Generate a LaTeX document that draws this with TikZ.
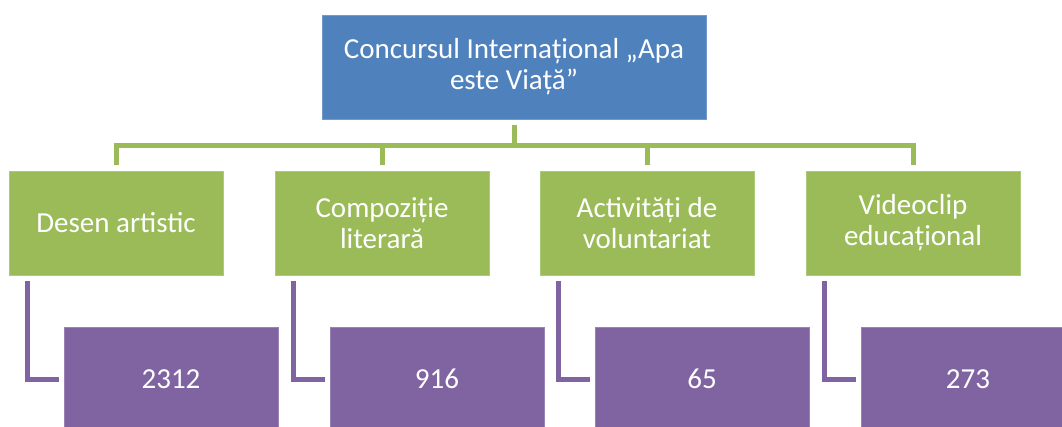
\documentclass[tikz,border=0pt]{standalone}
\usepackage{fontspec}
\setmainfont{Carlito}
\definecolor{topblue}{HTML}{4F81BD}
\definecolor{lvgreen}{HTML}{9BBB59}
\definecolor{lvpurple}{HTML}{8064A2}
\begin{document}
\begin{tikzpicture}[x=1pt,y=1pt,
  box/.style={rectangle, minimum width=214pt, minimum height=104pt, inner sep=0pt,
    text=white, align=center, font=\fontsize{29}{31}\selectfont},
  topbox/.style={box, fill=topblue, draw=topblue!80!white, line width=0.8pt, minimum width=384pt},
  greenbox/.style={box, fill=lvgreen, draw=lvgreen!80!white, line width=0.8pt},
  purplebox/.style={box, fill=lvpurple, draw=lvpurple!80!white, line width=0.8pt},
  gline/.style={draw=lvgreen, line width=5pt, shorten <=6pt, shorten >=6pt},
  pline/.style={draw=lvpurple, line width=5pt, shorten <=6pt, shorten >=5pt}]
\useasboundingbox (0,0) rectangle (1062,-426);
\clip (0,0) rectangle (1062,-426);
\node[topbox] (top) at (514,-67) {Concursul Internațional „Apa\\este Viață”};
\node[greenbox] (g1) at (116,-223) {Desen artistic};
\node[greenbox] (g2) at (382,-223) {Compoziție\\literară};
\node[greenbox] (g3) at (647,-223) {Activități de\\voluntariat};
\node[greenbox] (g4) at (913,-223) {Videoclip\\educațional};
\node[purplebox] (p1) at (171,-379) {2312};
\node[purplebox] (p2) at (437,-379) {916};
\node[purplebox] (p3) at (702,-379) {65};
\node[purplebox] (p4) at (968,-379) {273};
\foreach \g in {g1,g2,g3,g4}{
  \draw[gline] (top.south) -- ++(0,-26) -| (\g.north);
}
\foreach \g/\p in {g1/p1,g2/p2,g3/p3,g4/p4}{
  \draw[pline] ([xshift=19pt]\g.south west) |- (\p.west);
}
\end{tikzpicture}
\end{document}
